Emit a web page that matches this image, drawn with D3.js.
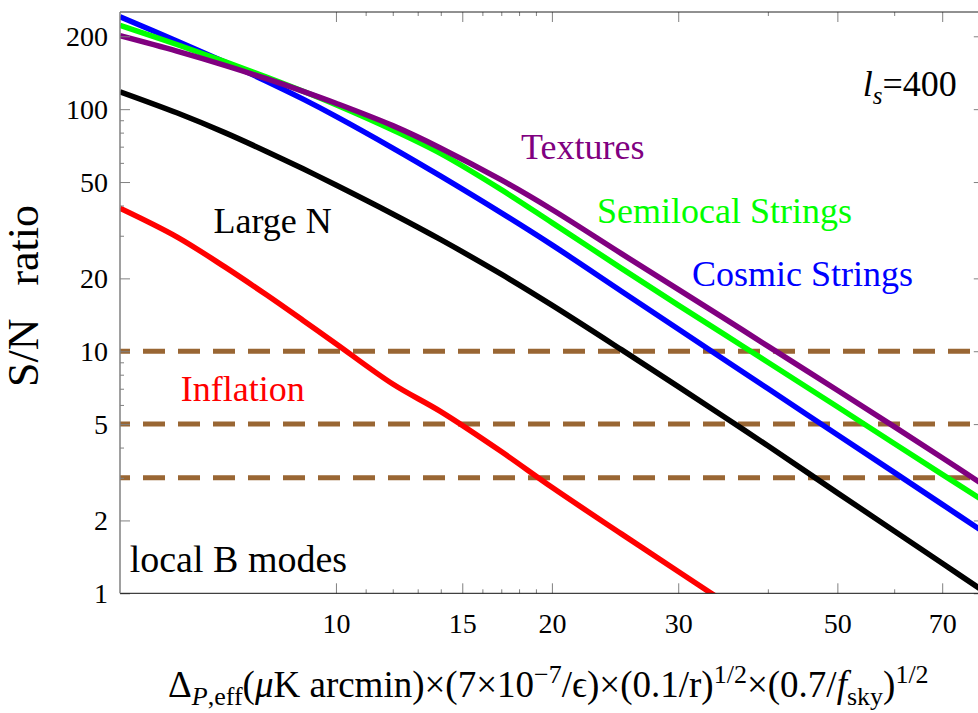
<!DOCTYPE html>
<html>
<head>
<meta charset="utf-8">
<script src="https://cdn.jsdelivr.net/npm/d3@7"></script>
<style>
  html, body { margin: 0; padding: 0; background: #fff; }
  svg { display: block; }
  text { font-family: "Liberation Serif", "Times New Roman", serif; }
</style>
</head>
<body>
<svg id="chart" width="978" height="713" font-family="Liberation Serif, Times New Roman, serif"></svg>
<script>
// Effective polarisation noise levels (x) and signal-to-noise ratios per source
const noiseLevels = [5, 6, 7, 8, 9, 10, 12, 14, 17, 20, 25, 30, 35, 40, 50, 60, 70, 80];
const cosmicStrings    = [241, 191.2, 156.5, 130.5, 110, 93.4, 69.1, 52.9, 37.3, 27.5, 17.7, 12.35, 9.12, 7.01, 4.52, 3.16, 2.33, 1.79];
const semilocalStrings = [222, 185, 157.3, 135.8, 118.6, 104.3, 82.0, 65.5, 46.5, 34.0, 22.0, 15.5, 11.6, 9.0, 5.9, 4.16, 3.10, 2.41];
const textures         = [201, 173.7, 151.7, 133.6, 118.5, 105.8, 85.5, 69.0, 51.0, 38.5, 25.3, 18.0, 13.5, 10.5, 6.9, 4.88, 3.63, 2.80];
const largeN           = [118, 96.6, 80.0, 66.9, 56.7, 48.6, 36.9, 28.9, 20.8, 15.5, 10.15, 7.14, 5.29, 4.07, 2.60, 1.81, 1.33, 1.02];
const inflation        = [39, 29.7, 22.3, 17.1, 13.4, 10.74, 7.32, 5.63, 3.85, 2.74, 1.76, 1.23, 0.91];

// Detection thresholds (horizontal dashed lines)
const thresholds = [10, 5, 3];

// Tick values
const xMajorTicks = [10, 15, 20, 30, 50, 70];
const xMinorTicks = [11, 12, 13, 14, 16, 17, 18, 19, 40, 60, 80];
const yMajorTicks = [1, 2, 5, 10, 20, 50, 100, 200];
const yMinorTicks = [3, 4, 6, 7, 8, 9, 30, 40, 60, 70, 80, 90];

const seriesNames  = ["Textures", "Semilocal Strings", "Cosmic Strings", "Large N", "Inflation"];
const seriesColors = ["#800080", "#00ff00", "#0000ff", "#000000", "#ff0000"];
const seriesValues = [textures, semilocalStrings, cosmicStrings, largeN, inflation];

const svg = d3.select("#chart");
const plotLeft = 120, plotRight = 983.8, plotTop = 12, plotBottom = 593.3;

const x = d3.scaleLog().domain([5, 80]).range([plotLeft, plotRight]);
const y = d3.scaleLog().domain([1, 252]).range([plotBottom, plotTop]);

svg.append("rect").attr("width", 978).attr("height", 713).attr("fill", "#fff");

svg.append("defs").append("clipPath").attr("id", "plot-clip")
  .append("rect").attr("x", plotLeft).attr("y", plotTop)
  .attr("width", plotRight - plotLeft).attr("height", plotBottom - plotTop);

// threshold lines
svg.append("g").attr("clip-path", "url(#plot-clip)")
  .selectAll("line").data(thresholds).join("line")
  .attr("x1", plotLeft).attr("x2", plotRight)
  .attr("y1", d => y(d)).attr("y2", d => y(d))
  .attr("stroke", "#996633").attr("stroke-width", 5)
  .attr("stroke-dasharray", "22 13").attr("stroke-dashoffset", 12);

// curves
const line = d3.line()
  .x(d => x(d[0])).y(d => y(d[1]))
  .curve(d3.curveCatmullRom.alpha(0.5));

const drawOrder = [4, 3, 2, 1, 0];
svg.append("g").attr("clip-path", "url(#plot-clip)")
  .selectAll("path").data(drawOrder).join("path")
  .attr("d", i => line(seriesValues[i].map((v, k) => [noiseLevels[k], v])))
  .attr("fill", "none")
  .attr("stroke", i => seriesColors[i])
  .attr("stroke-width", 5.5)
  .attr("stroke-linejoin", "round");

// axes
const serif = '"Liberation Serif", "Times New Roman", serif';
function styleAxis(g, keepText) {
  g.attr("font-family", null).attr("font-size", null);
  g.select(".domain").remove();
  g.selectAll(".tick line").attr("stroke", "#808080").attr("stroke-width", 1);
  g.selectAll(".tick text")
    .attr("fill", "#000")
    .style("font-family", serif)
    .style("font-size", "28px");
  if (!keepText) g.selectAll(".tick text").remove();
}

const fmt = d3.format("d");

svg.append("g").attr("transform", `translate(0,${plotBottom})`)
  .call(d3.axisBottom(x).tickValues(xMajorTicks).tickFormat(fmt)
    .tickSizeInner(-10).tickSizeOuter(0).tickPadding(20))
  .call(g => styleAxis(g, true));
svg.append("g").attr("transform", `translate(0,${plotBottom})`)
  .call(d3.axisBottom(x).tickValues(xMinorTicks).tickFormat("")
    .tickSizeInner(-4).tickSizeOuter(0))
  .call(g => styleAxis(g, false));

svg.append("g").attr("transform", `translate(0,${plotTop})`)
  .call(d3.axisTop(x).tickValues(xMajorTicks).tickSizeInner(-10).tickSizeOuter(0))
  .call(g => styleAxis(g, false));
svg.append("g").attr("transform", `translate(0,${plotTop})`)
  .call(d3.axisTop(x).tickValues(xMinorTicks).tickSizeInner(-4).tickSizeOuter(0))
  .call(g => styleAxis(g, false));

svg.append("g").attr("transform", `translate(${plotLeft},0)`)
  .call(d3.axisLeft(y).tickValues(yMajorTicks).tickFormat(fmt)
    .tickSizeInner(-10).tickSizeOuter(0).tickPadding(12))
  .call(g => styleAxis(g, true));
svg.append("g").attr("transform", `translate(${plotLeft},0)`)
  .call(d3.axisLeft(y).tickValues(yMinorTicks).tickFormat("")
    .tickSizeInner(-4).tickSizeOuter(0))
  .call(g => styleAxis(g, false));

svg.append("g").attr("transform", `translate(${plotRight},0)`)
  .call(d3.axisRight(y).tickValues(yMajorTicks).tickSizeInner(-10).tickSizeOuter(0))
  .call(g => styleAxis(g, false));
svg.append("g").attr("transform", `translate(${plotRight},0)`)
  .call(d3.axisRight(y).tickValues(yMinorTicks).tickSizeInner(-4).tickSizeOuter(0))
  .call(g => styleAxis(g, false));

// frame
const frame = svg.append("g").attr("fill", "none");
frame.append("line").attr("x1", plotLeft).attr("x2", plotRight).attr("y1", plotTop).attr("y2", plotTop).attr("stroke", "#222");
frame.append("line").attr("x1", plotLeft).attr("x2", plotRight).attr("y1", plotBottom).attr("y2", plotBottom).attr("stroke", "#111");
frame.append("line").attr("x1", plotRight).attr("x2", plotRight).attr("y1", plotTop).attr("y2", plotBottom).attr("stroke", "#222");
frame.append("line").attr("x1", plotLeft).attr("x2", plotLeft).attr("y1", plotTop).attr("y2", plotBottom).attr("stroke", "#808080").attr("stroke-width", 1.5);

// curve labels
const labelPos = [[521, 159], [597, 223], [692, 286], [213.5, 233], [180.7, 401]];
svg.append("g").selectAll("text").data(seriesNames).join("text")
  .attr("x", (d, i) => labelPos[i][0]).attr("y", (d, i) => labelPos[i][1])
  .attr("fill", (d, i) => seriesColors[i])
  .style("font-size", "36px")
  .text(d => d);

svg.append("text").attr("x", 129.7).attr("y", 572)
  .style("font-size", "38px").text("local B modes");

const ls = svg.append("text").attr("x", 862.7).attr("y", 96).style("font-size", "36px");
ls.append("tspan").attr("font-style", "italic").text("l");
ls.append("tspan").attr("font-style", "italic").attr("font-size", "25px").attr("dy", 8).text("s");
ls.append("tspan").attr("dy", -8).text("=400");

// axis titles
svg.append("text")
  .attr("transform", "translate(38,296) rotate(-90)")
  .attr("text-anchor", "middle")
  .attr("xml:space", "preserve")
  .style("white-space", "pre")
  .style("font-size", "44px")
  .text("S/N   ratio");

const xt = svg.append("text").attr("x", 168).attr("y", 697).style("font-size", "37px");
const parts = [
  ["Δ", 0, null, null],
  ["P", 8, "26px", "italic"],
  [",eff", 0, "26px", null],
  ["(", -8, null, null],
  ["μ", 0, null, "italic"],
  ["K arcmin)×(7×10", 0, null, null],
  ["−7", -14, "26px", null],
  ["/ϵ)×(0.1/r)", 14, null, null],
  ["1/2", -14, "26px", null],
  ["×(0.7/", 14, null, null],
  ["f", 0, null, "italic"],
  ["sky", 8, "26px", null],
  [")", -8, null, null],
  ["1/2", -14, "26px", null]
];
parts.forEach(([t, dy, fs, st]) => {
  const s = xt.append("tspan").attr("dy", dy).text(t);
  if (fs) s.attr("font-size", fs);
  if (st) s.attr("font-style", st);
});
</script>
</body>
</html>
